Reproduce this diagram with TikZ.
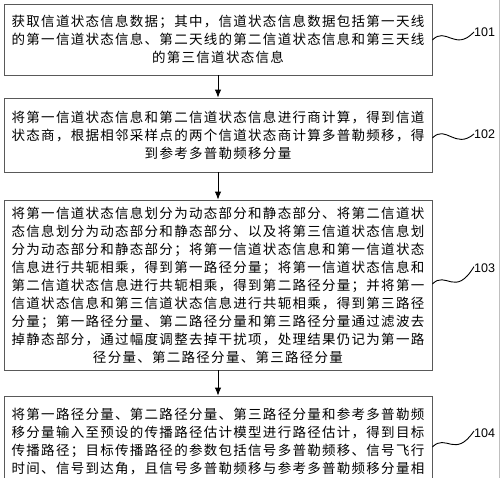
\documentclass[tikz,border=0pt]{standalone}
\usepackage{fontspec}
\setmainfont{Liberation Sans}
\newfontfamily\cjk[LetterSpace=9.5]{Noto Sans CJK SC}
\usetikzlibrary{arrows.meta}
\tikzset{
  stepbox/.style={draw=black!65, line width=0.8pt, minimum width=428pt, align=center, inner sep=0pt,
    font=\cjk\fontsize{13.5}{18}\selectfont},
  flow/.style={draw=black, line width=0.9pt, -{Latex[length=8pt,width=6.5pt]}},
  wave/.style={draw=black, line width=0.9pt},
  tag/.style={anchor=west, inner sep=0pt, font=\fontsize{12.5}{14}\selectfont}
}
\begin{document}
\begin{tikzpicture}[x=1pt,y=-1pt]
\useasboundingbox (0,0) rectangle (500,478);
\clip (0,0) rectangle (500,478);
\fill[white] (0,0) rectangle (500,478);
\draw[black!25, line width=0.6pt] (499.3,0) -- (499.3,478);

\node[stepbox, minimum height=71pt] (b1) at (218,39.5) {获取信道状态信息数据；其中，信道状态信息数据包括第一天线\\的第一信道状态信息、第二天线的第二信道状态信息和第三天线\\的第三信道状态信息};
\node[stepbox, minimum height=74pt] (b2) at (218,135) {将第一信道状态信息和第二信道状态信息进行商计算，得到信道\\状态商，根据相邻采样点的两个信道状态商计算多普勒频移，得\\到参考多普勒频移分量};
\node[stepbox, minimum height=170pt] (b3) at (218,285) {将第一信道状态信息划分为动态部分和静态部分、将第二信道状\\态信息划分为动态部分和静态部分、以及将第三信道状态信息划\\分为动态部分和静态部分；将第一信道状态信息和第一信道状态\\信息进行共轭相乘，得到第一路径分量；将第一信道状态信息和\\第二信道状态信息进行共轭相乘，得到第二路径分量；并将第一\\信道状态信息和第三信道状态信息进行共轭相乘，得到第三路径\\分量；第一路径分量、第二路径分量和第三路径分量通过滤波去\\掉静态部分，通过幅度调整去掉干扰项，处理结果仍记为第一路\\径分量、第二路径分量、第三路径分量};
\node[stepbox, minimum height=108pt] (b4) at (218,450) {将第一路径分量、第二路径分量、第三路径分量和参考多普勒频\\移分量输入至预设的传播路径估计模型进行路径估计，得到目标\\传播路径；目标传播路径的参数包括信号多普勒频移、信号飞行\\时间、信号到达角，且信号多普勒频移与参考多普勒频移分量相\\同};

\draw[flow] (b1.south) -- (b2.north);
\draw[flow] (b2.south) -- (b3.north);
\draw[flow] (b3.south) -- (b4.north);

\node[tag] (t1) at (474,32) {101};
\node[tag] (t2) at (474,134) {102};
\node[tag] (t3) at (474,268) {103};
\node[tag] (t4) at (474,433) {104};

\coordinate (w1) at (b1.east |- 0,40);
\coordinate (w2) at (b2.east |- 0,138);
\coordinate (w3) at (b3.east |- 0,284);
\coordinate (w4) at (b4.east |- 0,447);

\draw[wave] (w1) .. controls (446,26) and (455,52) .. (t1.west);
\draw[wave] (w2) .. controls (446,124) and (455,150) .. (t2.west);
\draw[wave] (w3) .. controls (446,270) and (455,298) .. ([yshift=6pt]t3.south west);
\draw[wave] (w4) .. controls (446,433) and (455,459) .. ([yshift=2pt]t4.west);
\end{tikzpicture}
\end{document}
